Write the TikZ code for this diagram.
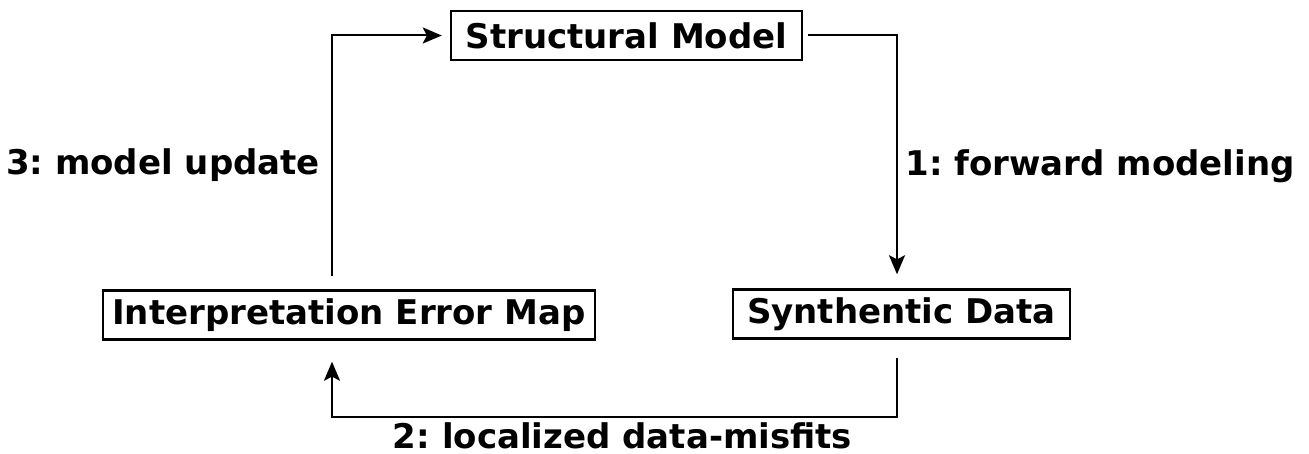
\documentclass[tikz,border=0pt]{standalone}
\usepackage{fontspec}
\setmainfont{DejaVu Sans}
\usetikzlibrary{arrows.meta}
\begin{document}
\frenchspacing
\begin{tikzpicture}[x=1pt,y=-1pt,
  txt/.style={font=\fontsize{34}{40}\selectfont\bfseries, inner sep=0pt},
  box/.style={txt, draw, line width=2.4pt, minimum height=49pt, inner sep=0pt},
  conn/.style={line width=2pt, -{Stealth[length=19pt,width=16pt,inset=4pt]}}]
\useasboundingbox (0,0) rectangle (1309,454);
\node[box, minimum width=351pt] (sm) at (626.5,35.5) {Structural Model};
\node[box, minimum width=492pt] (iem) at (349,315) {Interpretation Error Map};
\node[box, minimum width=337pt] (sd) at (901.5,314) {Synthentic Data};
\coordinate (bl) at (332,417);
\coordinate (br) at (897,417);
\draw[conn, shorten <=13pt, shorten >=8pt] ([xshift=-17pt]iem.north) |- (sm.west);
\draw[conn, shorten <=5pt, shorten >=14pt] (sm.east) -| ([xshift=-4.5pt]sd.north);
\draw[conn, shorten >=21pt] ([xshift=-4.5pt,yshift=-18pt]sd.south) -- (br) -- (bl) -- ([xshift=-17pt]iem.south);
\node[txt, anchor=base] (l3) at (163,175) {3: model update};
\node[txt, anchor=base] (l1) at (1100,176) {1: forward modeling};
\node[txt, anchor=base] (l2) at (622.5,448) {2: localized data-misfits};
\end{tikzpicture}
\end{document}
